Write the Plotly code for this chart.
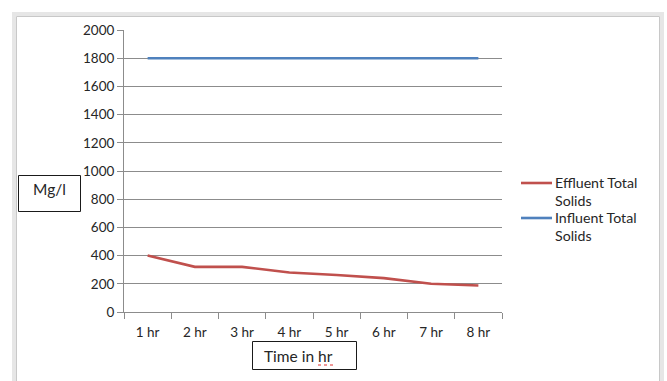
import plotly.graph_objects as go

# Sampling times and total solids concentrations (Mg/l)
hours = ["1 hr", "2 hr", "3 hr", "4 hr", "5 hr", "6 hr", "7 hr", "8 hr"]
effluent_ts = [400, 320, 320, 280, 262, 240, 200, 188]
influent_ts = [1800, 1800, 1800, 1800, 1800, 1800, 1800, 1800]
y_ticks = [0, 200, 400, 600, 800, 1000, 1200, 1400, 1600, 1800, 2000]

RED = "#C0504D"
BLUE = "#4F81BD"
GRID = "#8c8c8c"
TEXT = "#262626"
FONT = "Lato"

W, H = 667, 381
L, R, T, B = 124, 502, 30, 312  # plot area in pixels


def px(x):
    return (x - L) / (R - L)


def py(y):
    return (B - y) / (B - T)


fig = go.Figure()
fig.add_trace(go.Scatter(x=hours, y=effluent_ts, mode="lines",
                         line=dict(color=RED, width=2.6),
                         name="Effluent Total Solids", showlegend=False))
fig.add_trace(go.Scatter(x=hours, y=influent_ts, mode="lines",
                         line=dict(color=BLUE, width=2.6),
                         name="Influent Total Solids", showlegend=False))

shapes = []
annotations = []

# outer chart frame
shapes.append(dict(type="rect", xref="paper", yref="paper",
                   x0=px(14), x1=px(662), y0=py(14), y1=py(395),
                   line=dict(color="#e6e6e6", width=4), layer="below"))
shapes.append(dict(type="rect", xref="paper", yref="paper",
                   x0=px(16.5), x1=px(659.5), y0=py(16.5), y1=py(395),
                   line=dict(color="#c8c8c8", width=1), layer="below"))

# axis title boxes
shapes.append(dict(type="rect", xref="paper", yref="paper",
                   x0=px(18.5), x1=px(80.5), y0=py(175.5), y1=py(211.5),
                   line=dict(color="#1a1a1a", width=1), fillcolor="white"))
annotations.append(dict(text="Mg/l", xref="paper", yref="paper",
                        x=px(49), y=py(189), showarrow=False,
                        xanchor="center", yanchor="middle",
                        font=dict(family=FONT, size=15.5, color=TEXT)))
shapes.append(dict(type="rect", xref="paper", yref="paper",
                   x0=px(252.5), x1=px(356.5), y0=py(341.5), y1=py(369.5),
                   line=dict(color="#1a1a1a", width=1), fillcolor="white"))
annotations.append(dict(text="Time in hr", xref="paper", yref="paper",
                        x=px(262), y=py(356), showarrow=False,
                        xanchor="left", yanchor="middle",
                        font=dict(family=FONT, size=15.5, color=TEXT)))
# spell-check underline under "hr"
shapes.append(dict(type="line", xref="paper", yref="paper",
                   x0=px(318), x1=px(333), y0=py(365), y1=py(365),
                   line=dict(color="#e03030", width=1, dash="dot")))

# legend
for name, color, ly in [("Effluent Total<br>Solids", RED, 183),
                        ("Influent Total<br>Solids", BLUE, 218)]:
    shapes.append(dict(type="line", xref="paper", yref="paper",
                       x0=px(521), x1=px(552), y0=py(ly), y1=py(ly),
                       line=dict(color=color, width=2.6)))
    annotations.append(dict(text=name, xref="paper", yref="paper",
                            x=px(553), y=py(ly - 11), showarrow=False,
                            xanchor="left", yanchor="top", align="left",
                            font=dict(family=FONT, size=14.2, color=TEXT)))

fig.update_layout(
    width=W, height=H,
    margin=dict(l=L, r=W - R, t=T, b=H - B),
    paper_bgcolor="white", plot_bgcolor="white",
    font=dict(family=FONT, size=13, color=TEXT),
    shapes=shapes, annotations=annotations,
    showlegend=False,
)
fig.update_xaxes(
    type="category", range=[-0.5, 7.5],
    showgrid=False, showline=True, linecolor=GRID, linewidth=1,
    ticks="outside", ticklen=6, tickcolor=GRID, tickson="boundaries",
    ticklabelstandoff=8,
    tickfont=dict(family=FONT, size=13.5, color=TEXT),
)
fig.update_yaxes(
    range=[0, 2000], tickvals=y_ticks,
    showgrid=True, gridcolor=GRID, gridwidth=1,
    zeroline=False, showline=True, linecolor=GRID, linewidth=1,
    ticks="outside", ticklen=6, tickcolor=GRID,
    tickfont=dict(family=FONT, size=13.5, color=TEXT),
)

fig.write_html("out.html")
